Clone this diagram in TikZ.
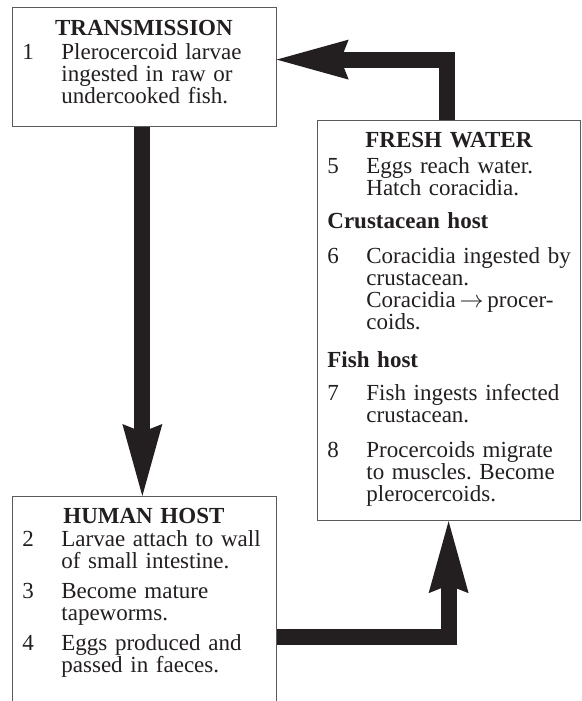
\documentclass[tikz,border=0pt]{standalone}
\usepackage{fontspec}
\setmainfont{Liberation Serif}
\usepackage{xcolor}
\usepackage{tikz}
\usetikzlibrary{arrows.meta}

\definecolor{inkblack}{HTML}{231F20}
\definecolor{framegray}{HTML}{5A5A5C}

\frenchspacing
\newcommand{\stagehead}[1]{\noindent\makebox[121.5pt][c]{\bfseries #1}\par\vspace{0.5pt}}
\newcommand{\stagestep}[2]{\par\hangindent=19.5pt\hangafter=1\noindent\makebox[19.5pt][l]{#1}#2\par}
\newcommand{\hostlabel}[1]{\par\noindent\textbf{#1}\par}

\tikzset{
	stagebox/.style={draw=framegray, line width=0.6pt, fill=white, anchor=north west, inner sep=0pt},
	stagetext/.style={anchor=base west, text width=132pt, align=left, inner sep=0pt, text=inkblack, font=\fontsize{11.5}{11}\selectfont},
	bigarrow/.style={draw=inkblack, line width=8pt, line join=miter, -{Stealth[length=36pt, width=20pt, inset=4pt, line width=0pt]}}
}

\begin{document}
\begin{tikzpicture}[x=0.5pt, y=-0.5pt]
	\useasboundingbox (0,0) rectangle (582,701);
	\node[stagebox, minimum width=131.75pt, minimum height=59.5pt] (trans) at (12,7) {};
	\node[stagebox, minimum width=131.75pt, minimum height=140pt] (human) at (12,496) {};
	\node[stagebox, minimum width=131.5pt, minimum height=200pt] (fresh) at (317,120) {};
	
	\node[stagetext] (transtext) at (22,35.5) {\stagehead{TRANSMISSION}
		\vspace{0.5pt}
		\stagestep{1}{Plerocercoid larvae\newline ingested in raw or\newline undercooked fish.}};
	\node[stagetext] (humantext) at (22,523) {\stagehead{HUMAN HOST}
		\stagestep{2}{Larvae attach to wall\newline of small intestine.}
		\vspace{4pt}
		\stagestep{3}{Become mature\newline tapeworms.}
		\vspace{4pt}
		\stagestep{4}{Eggs produced and\newline passed in faeces.}};
	\node[stagetext] (freshtext) at (327,148) {\stagehead{FRESH WATER}
		\vspace{1.5pt}
		\stagestep{5}{Eggs reach water.\newline Hatch coracidia.}
		\vspace{5.5pt}
		\hostlabel{Crustacean host}
		\vspace{6.5pt}
		\stagestep{6}{Coracidia ingested by\newline crustacean.\newline Coracidia\,$\rightarrow$\,procer-\newline coids.}
		\vspace{8pt}
		\hostlabel{Fish host}
		\vspace{5.5pt}
		\stagestep{7}{Fish ingests infected\newline crustacean.}
		\vspace{6pt}
		\stagestep{8}{Procercoids migrate\newline to muscles. Become\newline plerocercoids.}};
	
	\draw[bigarrow] ([xshift=-1pt]trans.south) -- ([xshift=-1pt]human.north);
	\draw[bigarrow] (human.east) -| ([xshift=-0.25pt]fresh.south);
	\draw[bigarrow] ([xshift=-1pt]fresh.north) |- ([yshift=3.75pt]trans.east);
\end{tikzpicture}
\end{document}
